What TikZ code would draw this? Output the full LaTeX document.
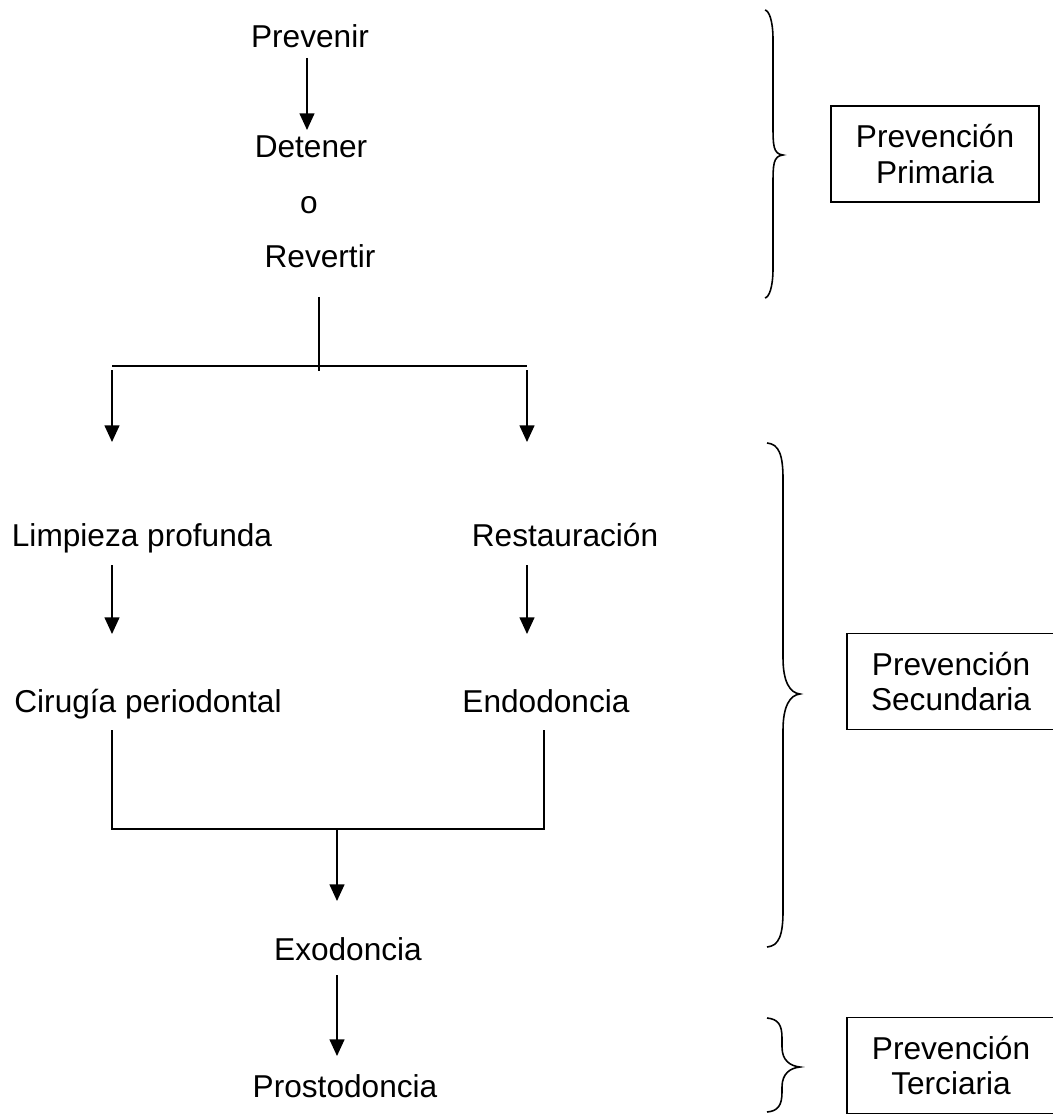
\documentclass[tikz,border=0pt]{standalone}
\usepackage{fontspec}
\setmainfont{Liberation Sans}
\usetikzlibrary{arrows.meta}

\begin{document}
\begin{tikzpicture}[x=0.02cm,y=-0.02cm,
  every node/.style={font=\fontsize{18}{20}\selectfont,inner sep=0pt,anchor=base},
  arr/.style={line width=0.9pt,-{Triangle[width=8.5pt,length=9.5pt]}},
  ln/.style={line width=0.9pt},
  level/.style={draw,line width=0.8pt,anchor=center,align=center,
    minimum width=4.16cm,minimum height=1.92cm}]
\useasboundingbox (0,0) rectangle (1052,1114);

% steps
\node (prev) at (310,48) {Prevenir};
\node (det) at (311,158) {Detener};
\node (o) at (309,214) {o};
\node (rev) at (320,268) {Revertir};
\node (limp) at (142,546) {Limpieza profunda};
\node (rest) at (565,546) {Restauración};
\node (cir) at (148,712) {Cirugía periodontal};
\node (endo) at (546,712) {Endodoncia};
\node (exo) at (348,960) {Exodoncia};
\node (prost) at (345,1097) {Prostodoncia};

% connector ends
\foreach \n/\x/\y in {p1/307/58, p2/307/130, r1/319/297, r2/319/371,
  bl/112/366, br/527/366, l1/112/370, l2/112/442, s1/527/370, s2/527/442,
  l3/112/565, l4/112/634, s3/527/565, s4/527/634,
  c1/112/730, c2/112/829, e1/544/730, e2/544/829, x1/337/829, x2/337/901,
  x3/337/975, x4/337/1056}
  \coordinate (\n) at (\x,\y);

\draw[arr] (p1) -- (p2);
\draw[ln] (r1) -- (r2);
\draw[ln] (bl) -- (br);
\draw[arr] (l1) -- (l2);
\draw[arr] (s1) -- (s2);
\draw[arr] (l3) -- (l4);
\draw[arr] (s3) -- (s4);
\draw[ln] (c1) -- (c2) -- (e2) -- (e1);
\draw[arr] (x1) -- (x2);
\draw[arr] (x3) -- (x4);

% braces: x of ends / x of spine / x of tip / top / middle / bottom / curl
\foreach \xa/\xv/\xt/\t/\m/\b/\c in {765/773/783/10/155/298/30,
  767/783/800/443/694/947/36, 767/782/800/1018/1067/1112/20}
  \draw[line width=0.9pt] (\xa,\t) .. controls (\xv-4,\t+1) and (\xv,\t+\c/3) .. (\xv,\t+\c)
    -- (\xv,\m-\c) .. controls (\xv,\m-\c/3) and (\xt-10,\m-1) .. (\xt,\m)
    .. controls (\xt-10,\m+1) and (\xv,\m+\c/3) .. (\xv,\m+\c)
    -- (\xv,\b-\c) .. controls (\xv,\b-\c/3) and (\xv-4,\b-1) .. (\xa,\b);

% levels
\node[level] (prim) at (935,154) {Prevención\\Primaria};
\node[level] (sec) at (951,681.5) {Prevención\\Secundaria};
\node[level] (ter) at (951,1065.5) {Prevención\\Terciaria};
\end{tikzpicture}
\end{document}
